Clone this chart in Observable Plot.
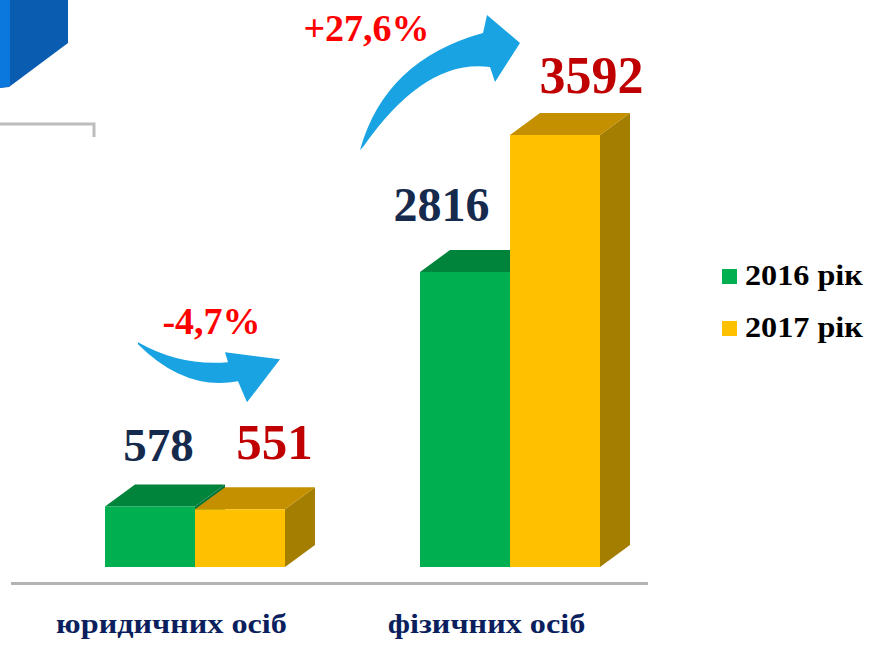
<!DOCTYPE html>
<html>
<head>
<meta charset="utf-8">
<script src="https://cdn.jsdelivr.net/npm/d3@7"></script>
<script src="https://cdn.jsdelivr.net/npm/@observablehq/plot@0.6"></script>
<style>
  body { margin: 0; background: #fff; }
  #wrap { position: relative; width: 874px; height: 649px; overflow: hidden; }
  #legend { position: absolute; left: 722px; top: 262px; font-family: "Liberation Serif", "DejaVu Serif", serif; font-weight: bold; font-size: 29px; color: #000; }
  .item { position: relative; height: 52px; }
  .sw { position: absolute; left: 0; top: 7px; width: 15px; height: 15px; }
  .lab { position: absolute; left: 23px; top: -7px; white-space: nowrap; line-height: 40px; transform: scaleX(1.11); transform-origin: left center; }
</style>
</head>
<body>
<div id="wrap"></div>
<script>
// ---- data ----
const categories = ["юридичних осіб", "фізичних осіб"];
const years = ["2016 рік", "2017 рік"];
const values2016 = [578, 2816];
const values2017 = [551, 3592];
const changes = ["-4,7%", "+27,6%"];
// breakpoints of the (non-uniform) value axis of the original chart
const yBreaks = [0, 2816, 3592];

// ---- styles ----
const frontColors = ["#00b050", "#ffc000"];
const topColors = ["#00843c", "#c49000"];
const sideColors = ["#00733a", "#a47e00"];
const serif = "'Liberation Serif', 'DejaVu Serif', serif";

const rows = [];
categories.forEach((c, i) => {
  rows.push({category: c, year: years[0], s: 0, value: values2016[i], change: changes[i]});
  rows.push({category: c, year: years[1], s: 1, value: values2017[i], change: changes[i]});
});

// decoration: blue cube corner and grey line at the top-left (slide remnants)
function decoration() {
  const g = d3.create("svg:g");
  g.append("polygon").attr("points", "0,0 68,0 68,43 9,87 0,88").attr("fill", "#0a5cb0");
  g.append("polygon").attr("points", "0,0 10,0 10,86 0,88").attr("fill", "#0a78dc");
  g.append("path").attr("d", "M0,124 H94 V137").attr("fill", "none").attr("stroke", "#bdbdbd").attr("stroke-width", 3);
  return g.node();
}

// 3D bars drawn through the x (band) and y scales
function bars3d(index, scales) {
  const {x, y} = scales;
  const bw = x.bandwidth() / 2;
  const DX = 30, DY = -22;
  const g = d3.create("svg:g");
  for (const r of rows) {
    const x0 = x(r.category) + r.s * bw, x1 = x0 + bw;
    const yb = y(0), yt = y(r.value);
    const bar = g.append("g");
    bar.append("polygon")
      .attr("points", [[x1, yt], [x1 + DX, yt + DY], [x1 + DX, yb + DY], [x1, yb]].join(" "))
      .attr("fill", sideColors[r.s]);
    bar.append("polygon")
      .attr("points", [[x0, yt], [x0 + DX, yt + DY], [x1 + DX, yt + DY], [x1, yt]].join(" "))
      .attr("fill", topColors[r.s]);
    bar.append("rect")
      .attr("x", x0).attr("y", yt).attr("width", bw).attr("height", yb - yt)
      .attr("fill", frontColors[r.s]);
  }
  return g.node();
}

// curved blue arrows showing the change between years
function arrows(index, scales) {
  const {x, y} = scales;
  const g = d3.create("svg:g").attr("fill", "#19a3e3");
  const c0 = x(categories[0]) + x.bandwidth() / 2, t0 = y(values2017[0]);
  g.append("path")
    .attr("transform", `translate(${c0},${t0})`)
    .attr("d", "M-57,-167 Q-15,-143 33,-147 L30,-157 L85,-150 L52,-107 L43,-128 Q-10,-118 -57,-165 Z");
  const c1 = x(categories[1]) + x.bandwidth() / 2, t1 = y(values2017[1]);
  g.append("path")
    .attr("transform", `translate(${c1},${t1})`)
    .attr("d", "M-150,15 Q-125,-75 -27,-102 L-23,-120 L10,-92 L-15,-53 L-20,-68 Q-85,-77 -147,12 Z");
  return g.node();
}

const labelFont = {fontFamily: serif, fontWeight: "bold", lineAnchor: "bottom"};
const pick = (cat, s) => rows.filter(r => r.category === categories[cat] && r.s === s);

const plot = Plot.plot({
  width: 874,
  height: 649,
  margin: 0,
  style: {background: "#fff", overflow: "visible"},
  x: {type: "band", domain: categories, range: [104, 600], paddingInner: 0.43, paddingOuter: 0, axis: null},
  y: {type: "linear", domain: yBreaks, range: [567, 272, 135], axis: null},
  marks: [
    decoration,
    Plot.ruleY([0], {stroke: "#b3b3b3", strokeWidth: 3, dy: 16, insetLeft: 11, insetRight: 226}),
    bars3d,
    arrows,
    Plot.text(pick(0, 0), {x: "category", y: "value", text: d => String(d.value), dx: -37, dy: -46, fontSize: 47, fill: "#152a4c", ...labelFont}),
    Plot.text(pick(0, 1), {x: "category", y: "value", text: d => String(d.value), dx: 79, dy: -51, fontSize: 51, fill: "#c00000", ...labelFont}),
    Plot.text(pick(1, 0), {x: "category", y: "value", text: d => String(d.value), dx: -69, dy: -52, fontSize: 48, fill: "#152a4c", ...labelFont}),
    Plot.text(pick(1, 1), {x: "category", y: "value", text: d => String(d.value), dx: 81, dy: -43, fontSize: 52, fill: "#c00000", ...labelFont}),
    Plot.text(pick(0, 1), {x: "category", y: "value", text: "change", dx: 16, dy: -176, fontSize: 38, fill: "#ff0000", ...labelFont}),
    Plot.text(pick(1, 1), {x: "category", y: "value", text: "change", dx: -144, dy: -95, fontSize: 38, fill: "#ff0000", ...labelFont}),
    Plot.text(categories, {x: d => d, frameAnchor: "bottom", dx: -24, dy: -17, text: d => d, fontSize: 28, fill: "#0b1f5e", ...labelFont})
  ]
});

plot.querySelectorAll("text").forEach(t => {
  if (categories.includes(t.textContent)) {
    t.setAttribute("lengthAdjust", "spacingAndGlyphs");
    t.setAttribute("data-cat", "1");
  }
});

const wrap = document.getElementById("wrap");
wrap.appendChild(plot);

// stretch the category labels like the original lettering
plot.querySelectorAll("text[data-cat]").forEach(t => {
  const len = t.getComputedTextLength();
  t.setAttribute("textLength", (len * 1.15).toFixed(1));
});

const legend = document.createElement("div");
legend.id = "legend";
years.forEach((yr, i) => {
  const item = document.createElement("div");
  item.className = "item";
  const sw = document.createElement("span");
  sw.className = "sw";
  sw.style.background = frontColors[i];
  const lab = document.createElement("span");
  lab.className = "lab";
  lab.textContent = yr;
  item.appendChild(sw);
  item.appendChild(lab);
  legend.appendChild(item);
});
wrap.appendChild(legend);
</script>
</body>
</html>
